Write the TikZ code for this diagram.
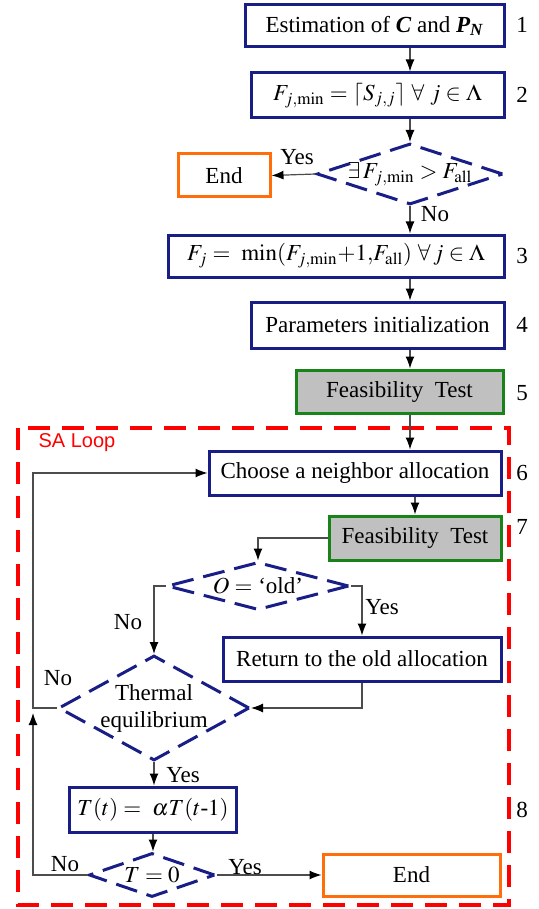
\documentclass[tikz,border=0pt]{standalone}
\usepackage{mathptmx}
\usepackage{fontspec}
\setmainfont{Liberation Serif}
\newfontfamily\loopfont{Liberation Sans}
\usetikzlibrary{shapes.geometric,arrows.meta}
\definecolor{boxblue}{RGB}{25,30,135}
\definecolor{testgreen}{RGB}{25,130,25}
\definecolor{testgray}{RGB}{192,192,192}
\definecolor{endorange}{RGB}{255,110,10}
\tikzset{
  stepbox/.style={draw=boxblue, line width=1.5pt, inner sep=0pt},
  testbox/.style={draw=testgreen, fill=testgray, line width=1.5pt, inner sep=0pt},
  endbox/.style={draw=endorange, line width=1.5pt, inner sep=0pt},
  decide/.style={diamond, draw=boxblue, line width=1.5pt, dash pattern=on 11pt off 5pt, inner sep=-3pt},
  flow/.style={draw=black!70, line width=0.6pt, -{Latex[length=6pt,width=4.5pt,color=black]}},
  answer/.style={inner sep=0pt},
}
\begin{document}
\begin{tikzpicture}[x=0.5pt,y=-0.5pt,font=\fontsize{11.5}{13.5}\selectfont]
\useasboundingbox (0,0) rectangle (539,909);
%\draw[step=10,gray,very thin] (0,0) grid (539,909);
\node[stepbox, minimum width=129.5pt, minimum height=21pt] (est) at (374.5,26) {Estimation of \textbf{\textit{C}} and \textbf{\textit{P\textsubscript{N}}}};
\node[stepbox, minimum width=126.5pt, minimum height=22.5pt] (fmin) at (377.5,95.5) {$F_{j,\mathrm{min}} = \lceil S_{j,j}\rceil \ \forall\ j \in \Lambda$};
\node[decide, aspect=3, minimum width=93pt, minimum height=30.5pt] (check) at (410,174) {$\exists\, F_{j,\mathrm{min}} > F_{\mathrm{all}}$};
\node[endbox, minimum width=46pt, minimum height=21.5pt] (endA) at (224,175.5) {End};
\node[stepbox, minimum width=168pt, minimum height=21pt] (fset) at (336,256) {$F_j = \ \mathrm{min}(F_{j,\mathrm{min}}{+}1{,}F_{\mathrm{all}})\ \forall\, j \in \Lambda$};
\node[stepbox, minimum width=126.5pt, minimum height=23pt] (init) at (377.5,325) {Parameters initialization};
\node[testbox, minimum width=103.5pt, minimum height=21.5pt] (feasA) at (399.5,391.5) {Feasibility\ \ Test};
\draw[red, line width=1.7pt, dash pattern=on 11pt off 6pt] (18,428) rectangle (509,905);
\node[red, answer, font=\loopfont\fontsize{10}{12}\selectfont] (saloop) at (77,443) {SA Loop};
\node[stepbox, minimum width=146pt, minimum height=22pt] (neigh) at (355,473) {Choose a neighbor allocation};
\node[testbox, minimum width=86pt, minimum height=22pt] (feasB) at (415,538) {Feasibility\ \ Test};
\node[decide, aspect=3.8, minimum width=91pt, minimum height=24pt] (oldq) at (258,586) {$O =$ `old'};
\node[stepbox, minimum width=139pt, minimum height=22pt] (ret) at (362,659) {Return to the old allocation};
\node[decide, aspect=1.8, minimum width=95.5pt, minimum height=52.5pt, align=center] (therm) at (154,708) {Thermal\\equilibrium};
\node[stepbox, minimum width=83.5pt, minimum height=22.5pt] (cool) at (153,809.5) {$T(t) = \ \alpha T(t\mbox{-}1)$};
\node[decide, aspect=2.9, minimum width=63pt, minimum height=22pt] (tzero) at (152,875) {$T = 0$};
\node[endbox, minimum width=88.5pt, minimum height=21pt] (endB) at (411.5,875) {End};
\coordinate (back) at (33,708);
\node (n1) at (522,25) {1};
\node (n2) at (522,95) {2};
\node (n3) at (522,256) {3};
\node (n4) at (522,325) {4};
\node (n5) at (522,393) {5};
\node (n6) at (522,473) {6};
\node (n7) at (522,527) {7};
\node (n8) at (522,810) {8};
\draw[flow] (est.south -| check) -- (fmin.north -| check);
\draw[flow] (fmin.south -| check) -- (check.north);
\draw[flow] (check.west) -- (endA.east);
\draw[flow] (check.south) -- (fset.north -| check);
\draw[flow] (fset.south -| check) -- (init.north -| check);
\draw[flow] (init.south -| check) -- (feasA.north -| check);
\draw[flow] (feasA.south -| check) -- (neigh.north -| check);
\draw[flow] (neigh.south -| feasB) -- (feasB.north);
\draw[flow] (feasB.west) -| (oldq.north);
\draw[flow] (oldq.west) -| (therm.north);
\draw[flow] (oldq.east) -| (ret.north);
\draw[flow] (ret.south) |- (therm.east);
\draw[flow] (therm.south) -- (cool.north -| therm);
\draw[flow] (cool.south) -- (tzero.north -| cool);
\draw[flow] (therm.west) -- (back) |- (neigh.west);
\draw[flow] (tzero.west) -| ([yshift=-2.5pt]back);
\draw[flow] (tzero.east) -- (tzero.east -| endB.west);
\node[answer] (yesA) at (297,157) {Yes};
\node[answer] (noA) at (435,214) {No};
\node[answer] (noB) at (128,622) {No};
\node[answer] (yesB) at (382,607) {Yes};
\node[answer] (noC) at (58,678) {No};
\node[answer] (yesC) at (183,775) {Yes};
\node[answer] (noD) at (65,864) {No};
\node[answer] (yesD) at (245,867) {Yes};
\end{tikzpicture}
\end{document}
